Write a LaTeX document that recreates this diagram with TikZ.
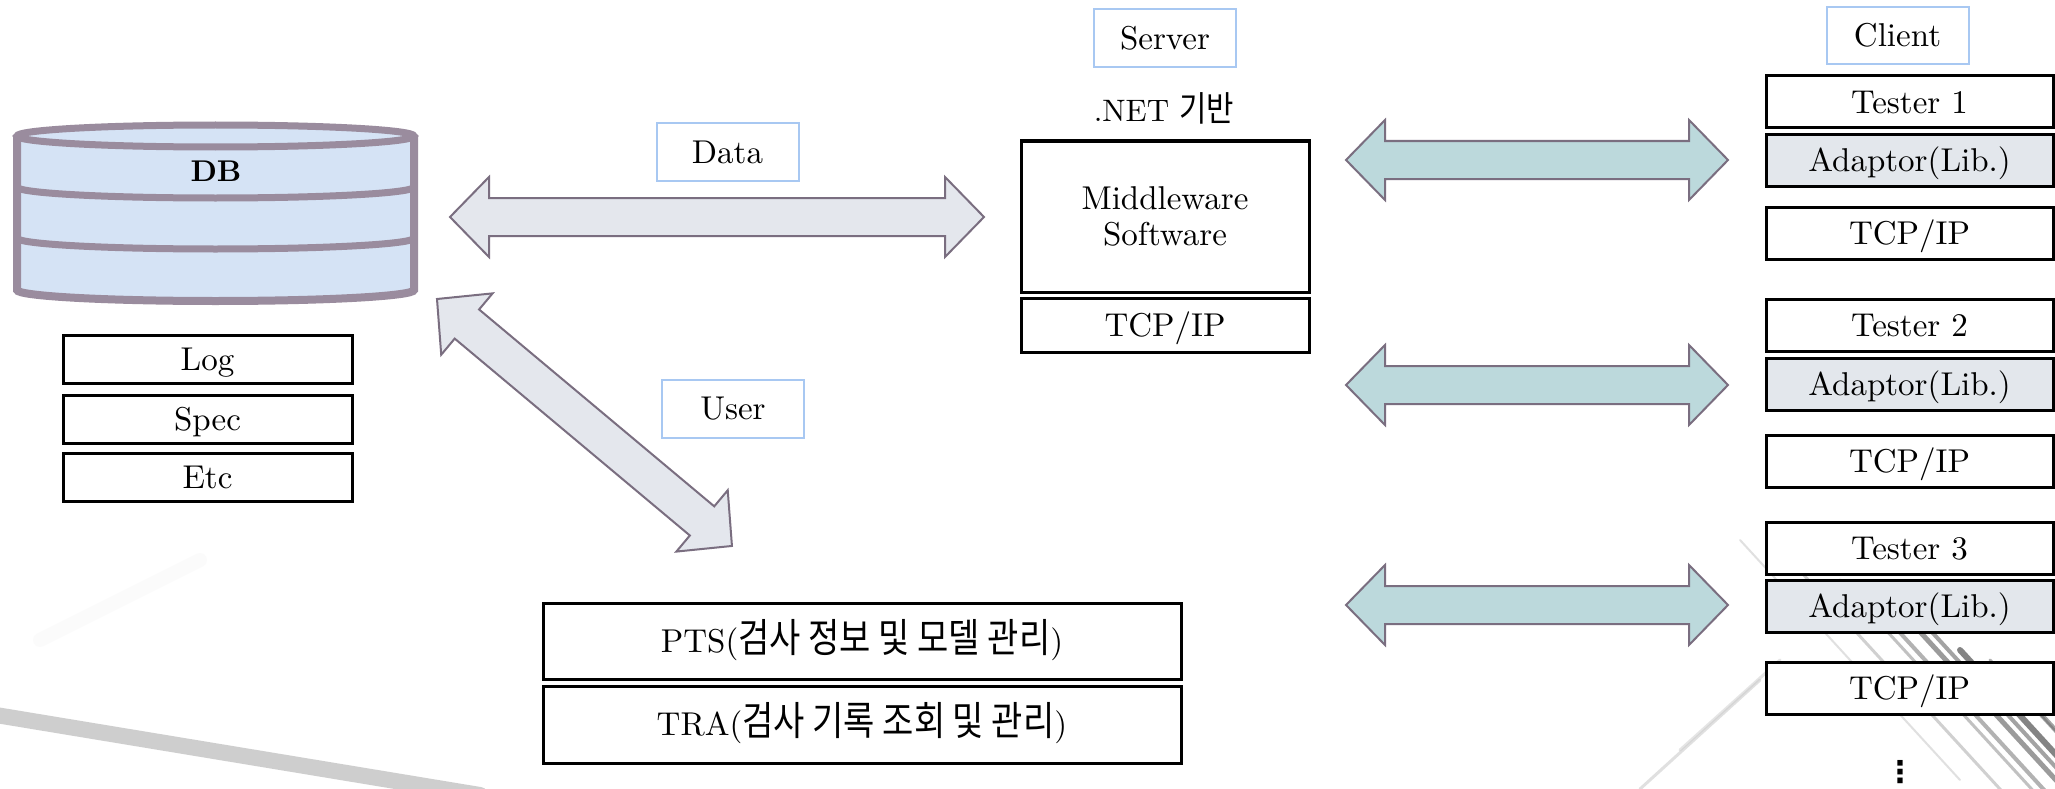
\documentclass[tikz,border=0pt]{standalone}
\usepackage{fontspec}
\usepackage{graphicx}
\usetikzlibrary{calc}
\setmainfont{lmroman10-regular}[Extension=.otf, BoldFont=lmroman10-bold]
\newfontfamily\kr{Noto Sans CJK KR}
\newfontfamily\dv{DejaVu Sans}
\definecolor{dbedge}{HTML}{9A8C9E}
\definecolor{dbfill}{HTML}{D5E3F5}
\definecolor{arredge}{HTML}{7A6E80}
\definecolor{arrgray}{HTML}{E4E7ED}
\definecolor{arrteal}{HTML}{BCD9DC}
\definecolor{lblblue}{HTML}{A8C8F2}
\definecolor{adfill}{HTML}{E3E7EC}
\newcommand\krt[2][40]{\scalebox{0.85}[1]{\kr\fontsize{#1}{#1}\selectfont #2}}
\newcommand\blockarrow[3]{%
  \draw[#1] let \p1=($(#3)-(#2)$), \n1={veclen(\x1,\y1)}, \n2={atan2(\y1,\x1)} in
   [shift={(#2)}, rotate=\n2]
   (0,0) -- (39,40) -- (39,19) -- (\n1-39,19) -- (\n1-39,40) -- (\n1,0)
   -- (\n1-39,-40) -- (\n1-39,-19) -- (39,-19) -- (39,-40) -- cycle;}
\tikzset{
  base/.style={inner sep=0pt, font=\fontsize{33}{39}\selectfont, text height=22.5pt, text depth=0pt},
  box/.style={base, draw=black, line width=3pt, fill=white},
  lbl/.style={base, draw=lblblue, line width=2pt, fill=white},
  lblsize/.style={minimum width=142pt, minimum height=58pt},
  dbbox/.style={box, minimum width=289pt, minimum height=48pt},
  cbox/.style={box, minimum width=287pt, minimum height=52pt},
  adbox/.style={cbox, fill=adfill},
  garrow/.style={draw=arredge, line width=2pt, fill=arrgray, line join=miter},
  tarrow/.style={garrow, fill=arrteal},
  streak/.style={line cap=round},
}
\begin{document}
\begin{tikzpicture}[x=1pt,y=-1pt]
\useasboundingbox (0,0) rectangle (2055,789);
\fill[white] (0,0) rectangle (2055,789);

% background streaks
\draw[streak, gray!70, line width=16pt, opacity=0.55] (-10,714) -- (480,795);
\draw[streak, gray!10, line width=14pt, opacity=0.25] (40,640) -- (200,560);
\foreach \a/\b/\w/\o in {1740/540/2/0.2, 1790/560/3/0.3, 1840/580/3/0.4, 1870/600/4/0.5, 1900/610/5/0.65, 1930/630/4/0.6, 1960/650/6/0.8, 1990/660/3/0.5, 2010/680/4/0.6}{
  \draw[streak, gray!80!black, line width=\w pt, opacity=\o] (\a,\b) -- ++(220,240);
}
\draw[streak, gray!40, line width=3pt, opacity=0.6] (1640,789) -- (1760,680);
\draw[streak, gray!40, line width=3pt, opacity=0.5] (1680,750) -- (1780,660);

% DB cylinder
\fill[dbfill] (17,136) -- (17,290) .. controls (17,296.1) and (105.9,301) .. (215.5,301)
  .. controls (325.1,301) and (414,296.1) .. (414,290) -- (414,136) -- cycle;
\draw[dbedge, line width=8pt] (17,136) -- (17,290) .. controls (17,296.1) and (105.9,301) .. (215.5,301)
  .. controls (325.1,301) and (414,296.1) .. (414,290) -- (414,136);
\foreach \Y in {187,238}{
  \draw[dbedge, line width=7pt] (17,\Y) .. controls (17,\Y+6.1) and (105.9,\Y+11) .. (215.5,\Y+11)
    .. controls (325.1,\Y+11) and (414,\Y+6.1) .. (414,\Y);
}
\draw[dbedge, fill=dbfill, line width=7pt] (215.5,136) ellipse [x radius=198.5, y radius=11];
\node[base, font=\fontsize{30}{36}\selectfont\bfseries] (db) at (216,170) {DB};

\node[dbbox] (log)  at (207.5,359) {Log};
\node[dbbox] (spec) at (207.5,419) {Spec};
\node[dbbox] (etc)  at (207.5,477) {Etc};

% labels
\node[lbl, lblsize] (data)   at (727.5,152) {Data};
\node[lbl, lblsize] (user)   at (733,408.5) {User};
\node[lbl, lblsize] (server) at (1165,38.5) {Server};
\node[lbl, lblsize, minimum height=57pt] (client) at (1897.5,35.5) {Client};

% server
\node[base, font=\fontsize{31}{36}\selectfont] (net) at (1164,110) {.NET \krt[35]{기반}};
\node[box, minimum width=288pt, minimum height=151pt, text height=, text depth=, align=center]
  (mw) at (1165,216.5) {Middleware\\[-3pt]Software};
\node[box, minimum width=288pt, minimum height=54pt] (stcp) at (1165,325) {TCP/IP};

% PTS / TRA
\node[box, minimum width=638pt, minimum height=76pt] (pts) at (862,641) {PTS(\krt{검사 정보 및 모델 관리})};
\node[box, minimum width=638pt, minimum height=77pt] (tra) at (862,724.5) {TRA(\krt{검사 기록 조회 및 관리})};

% clients
\node[cbox]  (t1) at (1909.5,102)   {Tester 1};
\node[adbox] (a1) at (1909.5,160.5) {Adaptor(Lib.)};
\node[cbox]  (p1) at (1909.5,233.5) {TCP/IP};
\node[cbox]  (t2) at (1909.5,325.5) {Tester 2};
\node[adbox] (a2) at (1909.5,384)   {Adaptor(Lib.)};
\node[cbox]  (p2) at (1909.5,461)   {TCP/IP};
\node[cbox]  (t3) at (1909.5,548)   {Tester 3};
\node[adbox] (a3) at (1909.5,606)   {Adaptor(Lib.)};
\node[cbox]  (p3) at (1909.5,688)   {TCP/IP};
\node[font=\dv\fontsize{30}{30}\selectfont\bfseries, inner sep=0pt] (dots) at (1900,772) {⋮};

% block arrows
\coordinate (dataL) at (450,217);
\coordinate (dataR) at (984,217);
\coordinate (userA) at (437,299);
\coordinate (userB) at (732,546);
\blockarrow{garrow}{dataL}{dataR}
\blockarrow{garrow}{userA}{userB}
\foreach \i/\y in {1/160,2/385,3/605}{
  \coordinate (c\i L) at (1346,\y);
  \coordinate (c\i R) at (1728,\y);
  \blockarrow{tarrow}{c\i L}{c\i R}
}
\end{tikzpicture}
\end{document}
